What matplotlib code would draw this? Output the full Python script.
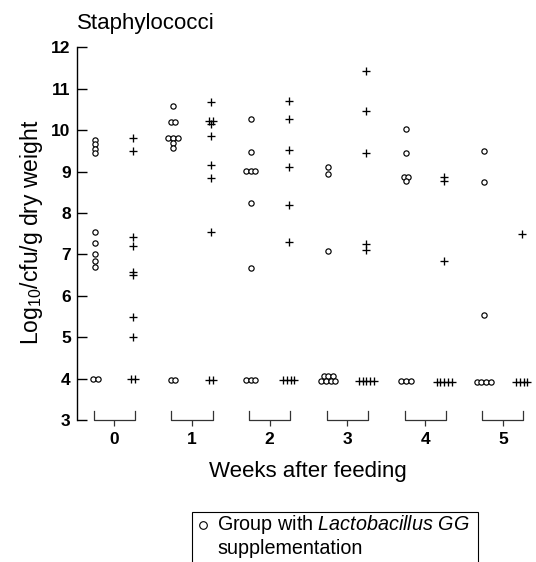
import matplotlib
matplotlib.use("Agg")
import matplotlib.pyplot as plt
from matplotlib.lines import Line2D
from matplotlib.patches import Rectangle
import numpy as np

plt.rcParams['font.family'] = ['Liberation Sans', 'DejaVu Sans']
plt.rcParams['mathtext.fontset'] = 'custom'
plt.rcParams['mathtext.rm'] = 'Liberation Sans'
plt.rcParams['mathtext.it'] = 'Liberation Sans:italic'

weeks = [0, 1, 2, 3, 4, 5]
y_ticks = [3, 4, 5, 6, 7, 8, 9, 10, 11, 12]

# Group with Lactobacillus GG supplementation (circles)
lgg_w0 = [9.76, 9.66, 9.55, 9.45, 7.53, 7.27, 7.02, 6.83, 6.70, 4.0, 4.0]
lgg_w1 = [10.58, 10.20, 10.20, 9.82, 9.82, 9.82, 9.70, 9.58, 3.97, 3.97]
lgg_w2 = [10.28, 9.46, 9.02, 9.02, 9.02, 8.25, 6.66, 3.96, 3.96, 3.96]
lgg_w3 = [9.10, 8.95, 7.09, 4.07, 4.07, 4.07, 3.93, 3.93, 3.93, 3.93]
lgg_w4 = [10.03, 9.45, 8.88, 8.88, 8.77, 3.95, 3.95, 3.95]
lgg_w5 = [9.50, 8.75, 5.53, 3.92, 3.92, 3.92, 3.92]
lgg = [lgg_w0, lgg_w1, lgg_w2, lgg_w3, lgg_w4, lgg_w5]

# Control group (plus signs)
ctl_w0 = [9.82, 9.49, 7.41, 7.19, 6.57, 6.49, 5.49, 5.00, 4.0, 4.0]
ctl_w1 = [10.69, 10.22, 10.22, 10.14, 9.86, 9.15, 8.84, 7.55, 3.97, 3.97]
ctl_w2 = [10.71, 10.27, 9.53, 9.11, 8.19, 7.29, 3.96, 3.96, 3.96, 3.96]
ctl_w3 = [11.42, 10.45, 9.44, 7.24, 7.11, 3.95, 3.95, 3.95, 3.95, 3.95]
ctl_w4 = [8.88, 8.76, 6.84, 3.92, 3.92, 3.92, 3.92, 3.92]
ctl_w5 = [7.48, 3.92, 3.92, 3.92, 3.92]
ctl = [ctl_w0, ctl_w1, ctl_w2, ctl_w3, ctl_w4, ctl_w5]

W, H = 536, 562
fig = plt.figure(figsize=(W / 100, H / 100), dpi=100)
ax = fig.add_axes([77 / W, 1 - 420 / H, 453 / W, (420 - 47.3) / H])
ax.set_xlim(-0.48, 5.35)
ax.set_ylim(3, 12)


def dodge(values, spacing):
    vals = np.asarray(values, dtype=float)
    offs = np.zeros(len(vals))
    for v in np.unique(vals):
        idx = np.where(vals == v)[0]
        n = len(idx)
        offs[idx] = (np.arange(n) - (n - 1) / 2) * spacing
    return offs


col_off = 0.245
for w, a, b in zip(weeks, lgg, ctl):
    xa = w - col_off + dodge(a, 0.060)
    ax.plot(xa, a, linestyle='none', marker='o', markersize=3.8,
            markerfacecolor='white', markeredgecolor='black',
            markeredgewidth=0.85, clip_on=False, zorder=3)
    xb = w + col_off + dodge(b, 0.048)
    ax.plot(xb, b, linestyle='none', marker='+', markersize=5.5,
            color='black', markeredgewidth=0.95, clip_on=False, zorder=3)
    # bracket
    hw = 0.264
    ax.plot([w - hw, w - hw, w + hw, w + hw], [3.22, 3.0, 3.0, 3.22],
            color='#333333', linewidth=0.9, clip_on=False, zorder=2)

for s in ['top', 'right', 'bottom']:
    ax.spines[s].set_visible(False)
ax.spines['left'].set_linewidth(1.0)

ax.set_yticks(y_ticks)
ax.set_yticklabels([str(t) for t in y_ticks], fontsize=12.5, fontweight='bold')
ax.tick_params(axis='y', direction='in', length=7, width=1.0, pad=4.5)

ax.set_xticks(weeks)
ax.set_xticklabels([str(w) for w in weeks], fontsize=12.5, fontweight='bold')
ax.tick_params(axis='x', direction='out', length=4, width=0.9,
               color='#333333', pad=5)

fig.text(77 / W, 1 - 29 / H, "Staphylococci", fontsize=16,
         ha='left', va='baseline')
fig.text(32 / W, 1 - 232 / H, r"Log$_{\mathrm{10}}$/cfu/g dry weight",
         fontsize=16.5, rotation=90, ha='center', va='center')
fig.text(308 / W, 1 - 471 / H, "Weeks after feeding", fontsize=16,
         ha='center', va='center')

# legend box (cut by the figure edge)
fig.add_artist(Rectangle((192 / W, 1 - 580 / H), (478 - 192) / W, (580 - 512) / H,
                         transform=fig.transFigure, fill=False,
                         edgecolor='black', linewidth=0.8))
fig.add_artist(Line2D([203 / W], [1 - 525 / H], transform=fig.transFigure,
                      marker='o', markersize=5.5, markerfacecolor='white',
                      markeredgecolor='black', markeredgewidth=0.8,
                      linestyle='none'))
fig.text(217 / W, 1 - 525 / H, r"Group with $\mathit{Lactobacillus\ GG}$",
         fontsize=14.2, ha='left', va='center')
fig.text(217 / W, 1 - 548 / H, "supplementation", fontsize=14.2,
         ha='left', va='center')

fig.savefig("out.png", dpi=100)
